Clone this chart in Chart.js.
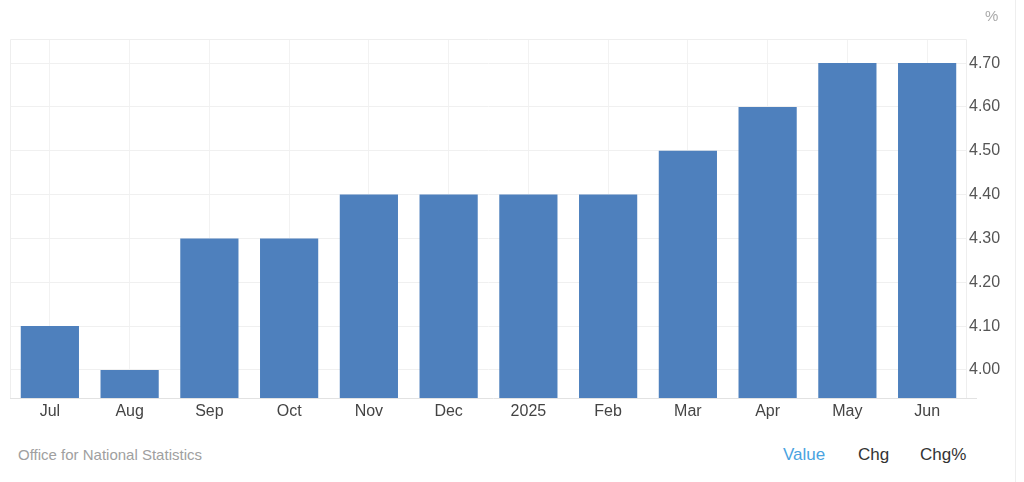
<!DOCTYPE html>
<html>
<head>
<meta charset="utf-8">
<script src="https://cdn.jsdelivr.net/npm/chart.js@4"></script>
<style>
  body { margin: 0; background: #fff; font-family: "Liberation Sans", Arial, sans-serif; }
  #wrap { position: relative; width: 1024px; height: 482px; overflow: hidden; }
  #box { position: absolute; left: 0; top: 0; width: 1024px; height: 440px; }
  .txt { position: absolute; white-space: nowrap; line-height: 1; }
  #edge { position: absolute; left: 1015px; top: 0; width: 1px; height: 482px; background: #eeeeee; }
</style>
</head>
<body>
<div id="wrap">
  <div id="box"><canvas id="chart1"></canvas></div>
  <div class="txt" style="left:985px; top:8px; font-size:15px; color:#aaaaaa;">%</div>
  <div class="txt" style="left:18px; top:447px; font-size:15px; color:#a0a0a0;">Office for National Statistics</div>
  <div class="txt" style="left:783px; top:446px; font-size:17px; color:#4aa3df;">Value</div>
  <div class="txt" style="left:858px; top:446px; font-size:17px; color:#333333;">Chg</div>
  <div class="txt" style="left:920px; top:446px; font-size:17px; color:#333333;">Chg%</div>
  <div id="edge"></div>
</div>
<script>
var months = ['Jul', 'Aug', 'Sep', 'Oct', 'Nov', 'Dec', '2025', 'Feb', 'Mar', 'Apr', 'May', 'Jun'];
var rates = [4.1, 4.0, 4.3, 4.3, 4.4, 4.4, 4.4, 4.4, 4.5, 4.6, 4.7, 4.7];
var yTicks = [4.0, 4.1, 4.2, 4.3, 4.4, 4.5, 4.6, 4.7];

// light frame round the plot area
var frame = {
    id: 'frame',
    beforeDatasetsDraw: function (chart) {
        var a = chart.chartArea, c = chart.ctx;
        c.save();
        c.strokeStyle = '#eeeeee';
        c.lineWidth = 1;
        c.beginPath();
        c.moveTo(a.left + 0.5, a.bottom);
        c.lineTo(a.left + 0.5, a.top + 0.5);
        c.lineTo(a.right - 0.5, a.top + 0.5);
        c.lineTo(a.right - 0.5, a.bottom);
        c.stroke();
        c.strokeStyle = '#e2e2e2';
        c.beginPath();
        c.moveTo(a.left, a.bottom + 0.5);
        c.lineTo(a.right + 10, a.bottom + 0.5);
        c.stroke();
        c.restore();
    }
};

var ctx1 = document.getElementById('chart1').getContext('2d');
var chart1 = new Chart(ctx1, {
    type: 'bar',
    data: {
        labels: months,
        datasets: [{
            data: rates,
            backgroundColor: '#4e80bd',
            borderWidth: 0,
            categoryPercentage: 0.73,
            barPercentage: 1
        }]
    },
    options: {
        responsive: true,
        maintainAspectRatio: false,
        animation: false,
        layout: { padding: { left: 10, top: 39, right: 0, bottom: 0 } },
        plugins: { legend: { display: false }, tooltip: { enabled: false } },
        scales: {
            x: {
                offset: true,
                grid: { offset: false, color: '#f2f2f2', drawTicks: false },
                border: { display: false },
                ticks: { color: '#444444', padding: 4, font: { size: 16, family: 'Liberation Sans' } },
                afterFit: function (s) { s.height = 42; }
            },
            y: {
                position: 'right',
                min: 3.936,
                max: 4.755,
                afterBuildTicks: function (s) { s.ticks = yTicks.map(function (v) { return { value: v }; }); },
                grid: { color: '#f0f0f0', drawTicks: false },
                border: { display: false },
                ticks: {
                    color: '#555555',
                    padding: 2,
                    font: { size: 16, family: 'Liberation Sans' },
                    callback: function (v) { return v.toFixed(2); }
                },
                afterFit: function (s) { s.width = 57; }
            }
        }
    },
    plugins: [frame]
});
</script>
</body>
</html>
